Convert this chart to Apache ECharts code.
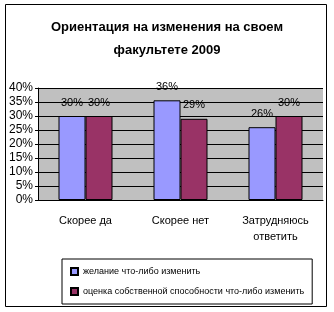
<!DOCTYPE html>
<html><head><meta charset="utf-8">
<script src="https://cdn.jsdelivr.net/npm/echarts@6/dist/echarts.min.js"></script>
<style>html,body{margin:0;padding:0;background:#fff}#c{width:334px;height:312px}</style>
</head><body><div id="c"></div>
<script>
const categories = ['Скорее да', 'Скорее нет', 'Затрудняюсь\nответить'];
const seriesNames = ['желание что-либо изменить', 'оценка собственной способности что-либо изменить'];
const wish = [30, 35.6, 26];
const ability = [30, 29, 30];
const yTicks = [0, 5, 10, 15, 20, 25, 30, 35, 40];

const F = "'Liberation Sans', Arial, sans-serif";
const chart = echarts.init(document.getElementById('c'), null, {renderer: 'canvas'});
const lbl = {show: true, position: 'top', distance: 8, color: '#000', fontFamily: F, fontSize: 11,
  formatter: p => Math.round(p.value) + '%'};
chart.setOption({
  animation: false,
  backgroundColor: '#fff',
  textStyle: {fontFamily: F},
  graphic: [{type: 'rect', shape: {x: 5.5, y: 4.5, width: 321, height: 302},
    style: {fill: 'none', stroke: '#000', lineWidth: 1}, z: 100}],
  title: {text: 'Ориентация на изменения на своем\nфакультете 2009', left: 'center', top: 11,
    textStyle: {fontFamily: F, fontSize: 13, fontWeight: 'bold', color: '#000', lineHeight: 23}},
  grid: {left: 38, top: 88, right: 11, bottom: 112, show: true, backgroundColor: '#C0C0C0', borderWidth: 0},
  legend: {orient: 'vertical', left: 62, top: 259, itemWidth: 7, itemHeight: 7, itemGap: 11,
    padding: [8, 8, 8, 8], borderColor: '#000', borderWidth: 1, backgroundColor: '#fff', icon: 'rect',
    textStyle: {fontFamily: F, fontSize: 9, color: '#000'}, data: seriesNames},
  xAxis: {type: 'category', data: categories,
    axisLine: {lineStyle: {color: '#000'}}, axisTick: {length: 4, lineStyle: {color: '#000'}},
    axisLabel: {color: '#000', fontFamily: F, fontSize: 11, margin: 13, lineHeight: 16, interval: 0}},
  yAxis: {type: 'value', min: yTicks[0], max: yTicks[yTicks.length - 1], interval: 5,
    axisLine: {show: true, lineStyle: {color: '#000'}}, axisTick: {show: true, length: 3, lineStyle: {color: '#000'}},
    splitLine: {lineStyle: {color: '#000'}},
    axisLabel: {color: '#000', fontFamily: F, fontSize: 12, margin: 5, formatter: v => v + '%'}},
  series: [
    {name: seriesNames[0], type: 'bar', data: wish, barWidth: 27, barGap: '0%',
      itemStyle: {color: '#9999FF', borderColor: '#000', borderWidth: 1}, label: lbl},
    {name: seriesNames[1], type: 'bar', data: ability, barWidth: 27,
      itemStyle: {color: '#993366', borderColor: '#000', borderWidth: 1}, label: lbl}
  ]
});
</script></body></html>
